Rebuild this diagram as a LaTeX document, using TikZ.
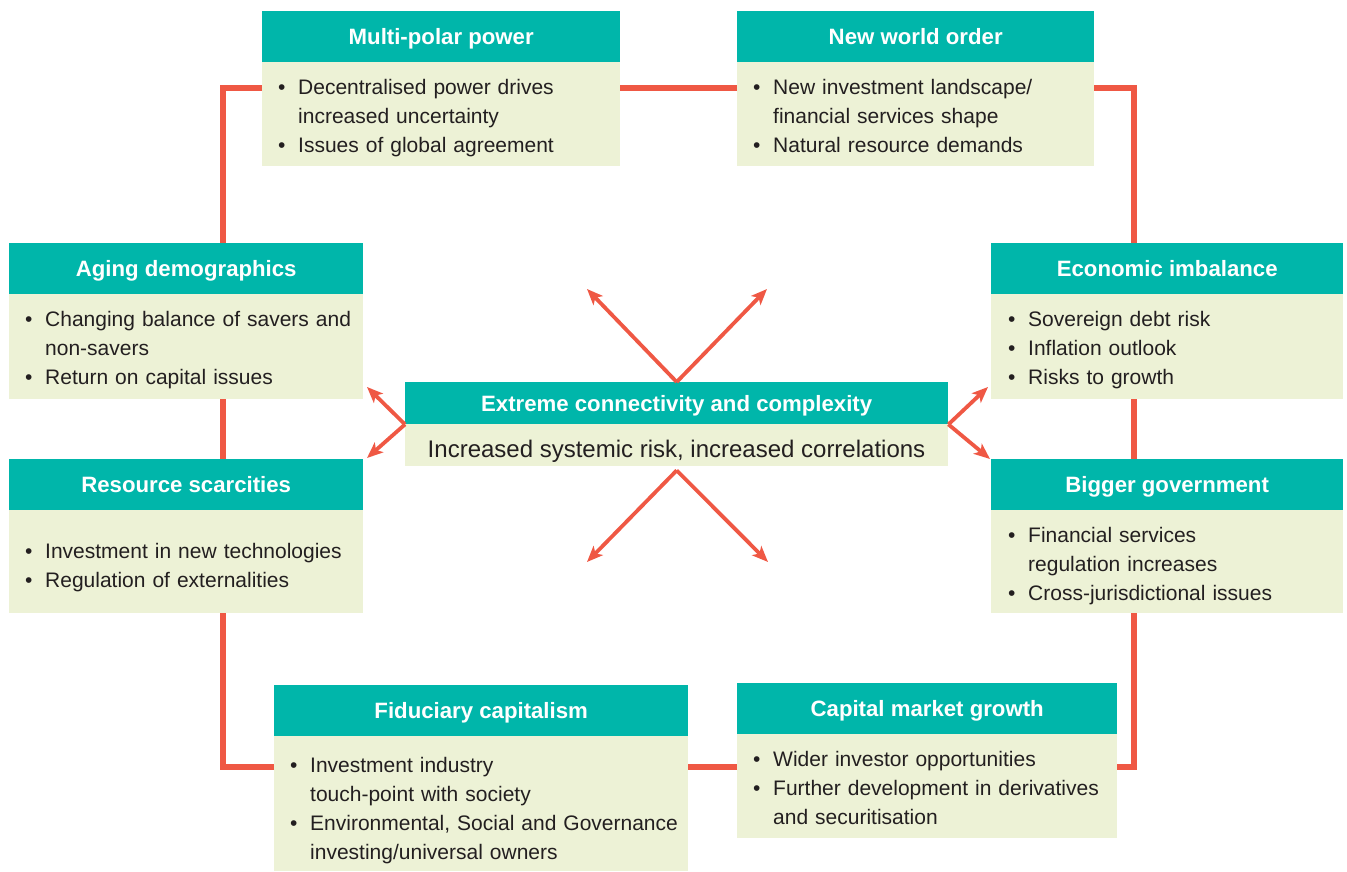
\documentclass[tikz,border=0pt]{standalone}
\usepackage{fontspec}
\setmainfont{Liberation Sans}
\usetikzlibrary{arrows.meta}

\definecolor{hdrteal}{RGB}{0,182,170}
\definecolor{bodygreen}{RGB}{237,242,214}
\definecolor{linkred}{RGB}{239,88,68}
\definecolor{inkgray}{RGB}{35,31,32}

% bullet item with hanging indent; continuation lines are broken with \newline
\newcommand{\bitem}[1]{\hangindent=20pt\hangafter=1\noindent\makebox[20pt][l]{\textbullet}#1\par}

\tikzset{
  hdr/.style={fill=hdrteal, text=white, anchor=north west, inner sep=0pt,
    font=\fontsize{22.2}{26}\selectfont\bfseries, text height=16pt, text depth=0pt},
  bodybox/.style={fill=bodygreen, anchor=north west, inner sep=0pt},
  bullets/.style={anchor=base west, inner sep=0pt, text=inkgray, align=left,
    text width=420pt, font=\fontsize{21}{29}\selectfont},
  link/.style={draw=linkred, line width=5.5pt},
  ray/.style={draw=linkred, line width=3.8pt,
    -{Stealth[length=16pt,width=13pt,inset=4pt]}},
}

\begin{document}
\begin{tikzpicture}[x=1pt,y=-1pt]
\useasboundingbox (0,0) rectangle (1347,872);

% ---- outer ring of themes ----
\node[hdr, minimum width=358pt, minimum height=51pt] (mppH) at (262,11) {Multi-polar power};
\node[bodybox, minimum width=358pt, minimum height=104pt] (mppB) at (262,62) {};
\node[bullets] (mppT) at (278,95) {\bitem{Decentralised power drives\newline increased uncertainty}\bitem{Issues of global agreement}};

\node[hdr, minimum width=357pt, minimum height=51pt] (nwoH) at (737,11) {New world order};
\node[bodybox, minimum width=357pt, minimum height=104pt] (nwoB) at (737,62) {};
\node[bullets] (nwoT) at (753,95) {\bitem{New investment landscape/\newline financial services shape}\bitem{Natural resource demands}};

\node[hdr, minimum width=354pt, minimum height=51pt] (agingH) at (9,243) {Aging demographics};
\node[bodybox, minimum width=354pt, minimum height=105pt] (agingB) at (9,294) {};
\node[bullets] (agingT) at (25,326) {\bitem{Changing balance of savers and\newline non-savers}\bitem{Return on capital issues}};

\node[hdr, minimum width=352pt, minimum height=51pt] (econH) at (991,243) {Economic imbalance};
\node[bodybox, minimum width=352pt, minimum height=105pt] (econB) at (991,294) {};
\node[bullets] (econT) at (1008,326) {\bitem{Sovereign debt risk}\bitem{Inflation outlook}\bitem{Risks to growth}};

\node[hdr, minimum width=354pt, minimum height=51pt] (resH) at (9,459) {Resource scarcities};
\node[bodybox, minimum width=354pt, minimum height=103pt] (resB) at (9,510) {};
\node[bullets] (resT) at (25,558) {\bitem{Investment in new technologies}\bitem{Regulation of externalities}};

\node[hdr, minimum width=352pt, minimum height=51pt] (bigH) at (991,459) {Bigger government};
\node[bodybox, minimum width=352pt, minimum height=103pt] (bigB) at (991,510) {};
\node[bullets] (bigT) at (1008,542) {\bitem{Financial services\newline regulation increases}\bitem{Cross-jurisdictional issues}};

\node[hdr, minimum width=414pt, minimum height=51pt] (fidH) at (274,685) {Fiduciary capitalism};
\node[bodybox, minimum width=414pt, minimum height=135pt] (fidB) at (274,736) {};
\node[bullets] (fidT) at (290,772) {\bitem{Investment industry\newline touch-point with society}\bitem{Environmental, Social and Governance\newline investing/universal owners}};

\node[hdr, minimum width=380pt, minimum height=51pt] (cmgH) at (737,683) {Capital market growth};
\node[bodybox, minimum width=380pt, minimum height=104pt] (cmgB) at (737,734) {};
\node[bullets] (cmgT) at (753,766) {\bitem{Wider investor opportunities}\bitem{Further development in derivatives\newline and securitisation}};

% ---- central hub ----
\node[hdr, minimum width=543pt, minimum height=42pt] (ctrH) at (405,382) {Extreme connectivity and complexity};
\node[bodybox, minimum width=543pt, minimum height=42pt] (ctrB) at (405,424) {};
\node[anchor=base, inner sep=0pt, text=inkgray, font=\fontsize{24}{28}\selectfont] (ctrT) at (676.5,457) {Increased systemic risk, increased correlations};

% ---- ring connectors ----
\coordinate (cTL) at (223,88);
\coordinate (cTR) at (1134,88);
\coordinate (cBL) at (223,767);
\coordinate (cBR) at (1134,767);

\draw[link] (mppB.west |- cTL) -- (cTL) -- (cTL |- agingH.north);
\draw[link] (mppB.east |- cTL) -- (nwoB.west |- cTL);
\draw[link] (nwoB.east |- cTR) -- (cTR) -- (cTR |- econH.north);
\draw[link] (cTR |- econB.south) -- (cTR |- bigH.north);
\draw[link] (cTR |- bigB.south) -- (cBR) -- (cmgB.east |- cBR);
\draw[link] (cmgB.west |- cBR) -- (fidB.east |- cBR);
\draw[link] (fidB.west |- cBL) -- (cBL) -- (cBL |- resB.south);
\draw[link] (cBL |- resH.north) -- (cBL |- agingB.south);

% ---- rays from the hub ----
\coordinate (tipUL) at (587,289);
\coordinate (tipUR) at (767,289);
\coordinate (tipDL) at (587,562);
\coordinate (tipDR) at (768,562);
\coordinate (tipLU) at (367,387);
\coordinate (tipLD) at (367,458);
\coordinate (tipRU) at (988,387);
\coordinate (tipRD) at (990,459);
\coordinate (apexB) at ([yshift=-4pt]ctrB.south);

\draw[ray] (ctrH.north) -- (tipUL);
\draw[ray] (ctrH.north) -- (tipUR);
\draw[ray] (apexB) -- (tipDL);
\draw[ray] (apexB) -- (tipDR);
\draw[ray] (ctrH.south west) -- (tipLU);
\draw[ray] (ctrH.south west) -- (tipLD);
\draw[ray] (ctrH.south east) -- (tipRU);
\draw[ray] (ctrH.south east) -- (tipRD);
\end{tikzpicture}
\end{document}
